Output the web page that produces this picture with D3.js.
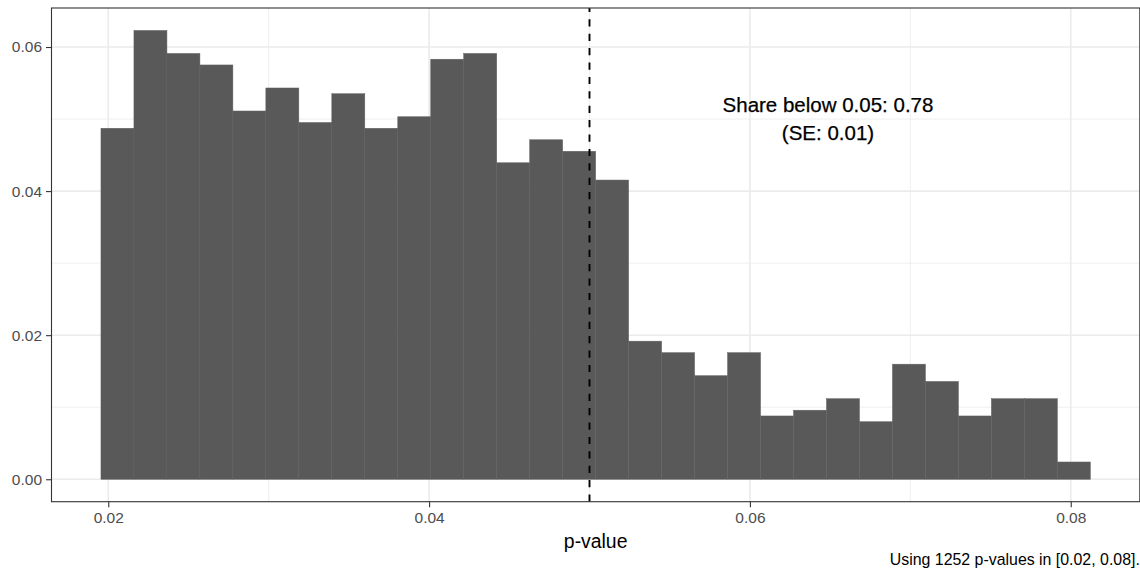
<!DOCTYPE html>
<html lang="en">
<head>
  <meta charset="UTF-8" />
  <title>p-value histogram</title>
  <script src="https://d3js.org/d3.v7.min.js"></script>
  <style>
    body { margin: 0; background: #fff; }
    svg { display: block; font-family: "Liberation Sans", Arial, sans-serif; }
    .tick-label { font-size: 15.5px; fill: #4d4d4d; }
  </style>
</head>
<body>
  <div id="chart"></div>
  <script>
    // histogram: 30 bins, counts (n = 1252)
    const binStart = 0.019545;
    const binWidth = 0.0020559;
    const counts = [61, 78, 74, 72, 64, 68, 62, 67, 61, 63, 73, 74, 55, 59, 57, 52,
                    24, 22, 18, 22, 11, 12, 14, 10, 20, 17, 11, 14, 14, 3];
    const total = 1252;
    const xTicks = [0.02, 0.04, 0.06, 0.08];
    const xMinor = [0.03, 0.05, 0.07];
    const yTicks = [0, 0.02, 0.04, 0.06];
    const yMinor = [0.01, 0.03, 0.05];
    const cutoff = 0.05;
    const annotation = ["Share below 0.05: 0.78", "(SE: 0.01)"];
    const caption = "Using 1252 p-values in [0.02, 0.08].";

    const width = 1140, height = 575;
    const panel = { left: 51.5, right: 1139.8, top: 8, bottom: 501.7 };

    const bins = counts.map((c, i) => ({
      x0: binStart + i * binWidth,
      x1: binStart + (i + 1) * binWidth,
      share: c / total
    }));

    const xLo = bins[0].x0, xHi = bins[bins.length - 1].x1;
    const xPad = (xHi - xLo) * 0.05;
    const x = d3.scaleLinear().domain([xLo - xPad, xHi + xPad]).range([panel.left, panel.right]);
    const yMax = d3.max(bins, d => d.share);
    const yPad = yMax * 0.05;
    const y = d3.scaleLinear().domain([-yPad, yMax + yPad]).range([panel.bottom, panel.top]);

    const svg = d3.select("#chart").append("svg")
      .attr("width", width)
      .attr("height", height);

    // grid
    const grid = svg.append("g");
    grid.selectAll("line.ymin").data(yMinor).enter().append("line")
      .attr("x1", panel.left).attr("x2", panel.right)
      .attr("y1", d => y(d)).attr("y2", d => y(d))
      .attr("stroke", "#ebebeb").attr("stroke-width", 0.8);
    grid.selectAll("line.xmin").data(xMinor).enter().append("line")
      .attr("y1", panel.top).attr("y2", panel.bottom)
      .attr("x1", d => x(d)).attr("x2", d => x(d))
      .attr("stroke", "#ebebeb").attr("stroke-width", 0.8);
    grid.selectAll("line.ymaj").data(yTicks).enter().append("line")
      .attr("x1", panel.left).attr("x2", panel.right)
      .attr("y1", d => y(d)).attr("y2", d => y(d))
      .attr("stroke", "#ebebeb").attr("stroke-width", 1.6);
    grid.selectAll("line.xmaj").data(xTicks).enter().append("line")
      .attr("y1", panel.top).attr("y2", panel.bottom)
      .attr("x1", d => x(d)).attr("x2", d => x(d))
      .attr("stroke", "#ebebeb").attr("stroke-width", 1.6);

    // bars
    svg.append("g").selectAll("rect").data(bins).enter().append("rect")
      .attr("x", d => x(d.x0))
      .attr("width", d => x(d.x1) - x(d.x0))
      .attr("y", d => y(d.share))
      .attr("height", d => y(0) - y(d.share))
      .attr("fill", "#595959")
      .attr("stroke", "#606060")
      .attr("stroke-width", 0.5);

    // cutoff line
    svg.append("line")
      .attr("x1", x(cutoff)).attr("x2", x(cutoff))
      .attr("y1", panel.bottom).attr("y2", panel.top)
      .attr("stroke", "#000")
      .attr("stroke-width", 1.9)
      .attr("stroke-dasharray", "7.2,7.2");

    // annotation
    const ann = svg.append("text")
      .attr("text-anchor", "middle")
      .style("font-size", "20.5px")
      .attr("fill", "#000")
      .attr("stroke", "#000")
      .attr("stroke-width", 0.25);
    annotation.forEach((t, i) => {
      ann.append("tspan").attr("x", 828).attr("y", 112.4 + i * 27.8).text(t);
    });

    // panel border
    svg.append("rect")
      .attr("x", panel.left).attr("y", panel.top)
      .attr("width", panel.right - panel.left)
      .attr("height", panel.bottom - panel.top)
      .attr("fill", "none")
      .attr("stroke", "#333333")
      .attr("stroke-width", 1.1);

    // axes
    const xAxis = svg.append("g")
      .attr("transform", `translate(0,${panel.bottom})`)
      .call(d3.axisBottom(x).tickValues(xTicks).tickSize(5.5).tickPadding(4).tickFormat(d3.format(".2f")));
    const yAxis = svg.append("g")
      .attr("transform", `translate(${panel.left},0)`)
      .call(d3.axisLeft(y).tickValues(yTicks).tickSize(5.5).tickPadding(4).tickFormat(d3.format(".2f")));
    [xAxis, yAxis].forEach(a => {
      a.select(".domain").remove();
      a.selectAll(".tick line").attr("stroke", "#333333").attr("stroke-width", 1.1);
      a.selectAll(".tick text").attr("class", "tick-label").attr("font-family", null).attr("font-size", null);
    });
    xAxis.selectAll(".tick text").attr("dy", null).attr("y", 21.8);

    // axis title
    svg.append("text")
      .attr("x", (panel.left + panel.right) / 2)
      .attr("y", 548)
      .attr("text-anchor", "middle")
      .style("font-size", "19.4px")
      .attr("fill", "#000")
      .text("p-value");

    // caption
    svg.append("text")
      .attr("x", panel.right)
      .attr("y", 565)
      .attr("text-anchor", "end")
      .style("font-size", "15.9px")
      .attr("fill", "#000")
      .text(caption);
  </script>
</body>
</html>
